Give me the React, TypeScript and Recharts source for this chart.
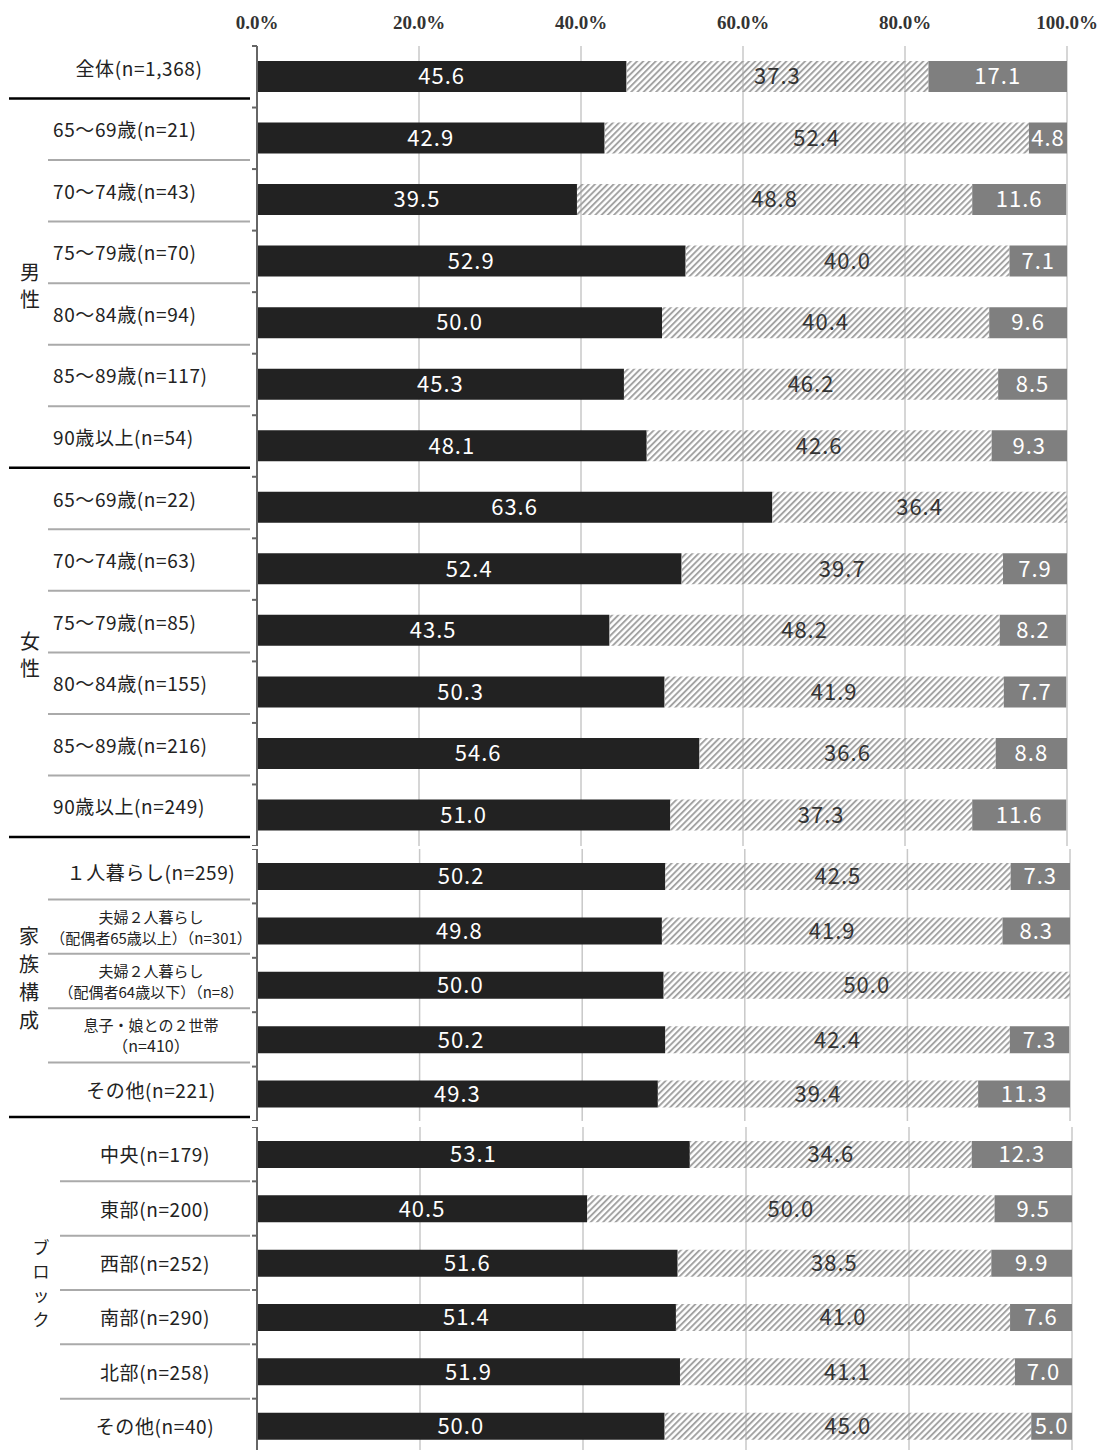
import { Bar, BarChart, CartesianGrid, LabelList, XAxis, YAxis } from "recharts"

const xTicks = [0, 20, 40, 60, 80, 100]

const topCategories = [
  "全体(n=1,368)",
  "65〜69歳(n=21)",
  "70〜74歳(n=43)",
  "75〜79歳(n=70)",
  "80〜84歳(n=94)",
  "85〜89歳(n=117)",
  "90歳以上(n=54)",
  "65〜69歳(n=22)",
  "70〜74歳(n=63)",
  "75〜79歳(n=85)",
  "80〜84歳(n=155)",
  "85〜89歳(n=216)",
  "90歳以上(n=249)",
]
const topBlack = [45.6, 42.9, 39.5, 52.9, 50.0, 45.3, 48.1, 63.6, 52.4, 43.5, 50.3, 54.6, 51.0]
const topHatch = [37.3, 52.4, 48.8, 40.0, 40.4, 46.2, 42.6, 36.4, 39.7, 48.2, 41.9, 36.6, 37.3]
const topGrey = [17.1, 4.8, 11.6, 7.1, 9.6, 8.5, 9.3, 0, 7.9, 8.2, 7.7, 8.8, 11.6]

const familyCategories = [
  "１人暮らし(n=259)",
  "夫婦２人暮らし\n（配偶者65歳以上）（n=301）",
  "夫婦２人暮らし\n（配偶者64歳以下）（n=8）",
  "息子・娘との２世帯\n（n=410）",
  "その他(n=221)",
]
const familyBlack = [50.2, 49.8, 50.0, 50.2, 49.3]
const familyHatch = [42.5, 41.9, 50.0, 42.4, 39.4]
const familyGrey = [7.3, 8.3, 0, 7.3, 11.3]

const blockCategories = [
  "中央(n=179)",
  "東部(n=200)",
  "西部(n=252)",
  "南部(n=290)",
  "北部(n=258)",
  "その他(n=40)",
]
const blockBlack = [53.1, 40.5, 51.6, 51.4, 51.9, 50.0]
const blockHatch = [34.6, 50.0, 38.5, 41.0, 41.1, 45.0]
const blockGrey = [12.3, 9.5, 9.9, 7.6, 7.0, 5.0]

const topGroups = [
  { name: "", start: 0, count: 1, textX: 139, anchor: "middle", sepLeft: 48, charX: 30, charGap: 27, charSize: 20 },
  { name: "男性", start: 1, count: 6, textX: 53, anchor: "start", sepLeft: 48, charX: 30, charGap: 27, charSize: 20 },
  { name: "女性", start: 7, count: 6, textX: 53, anchor: "start", sepLeft: 48, charX: 30, charGap: 27, charSize: 20 },
]
const familyGroups = [
  { name: "家族構成", start: 0, count: 5, textX: 151, anchor: "middle", sepLeft: 48, charX: 29, charGap: 28, charSize: 20 },
]
const blockGroups = [
  { name: "ブロック", start: 0, count: 6, textX: 155, anchor: "middle", sepLeft: 60, charX: 41, charGap: 24, charSize: 17 },
]

const LABEL_FONT = "'Noto Sans CJK JP', 'Noto Sans', sans-serif"

type Group = {
  name: string
  start: number
  count: number
  textX: number
  anchor: string
  sepLeft: number
  charX: number
  charGap: number
  charSize: number
}

type SectionProps = {
  id: string
  categories: string[]
  black: number[]
  hatch: number[]
  grey: number[]
  groups: Group[]
  top: number
  plotHeight: number
  marginTop: number
  barSize: number
  showAxis: boolean
  rightEdge: number
  sepOffset: number
}

function fmt(v: any) {
  const n = Number(v)
  return n > 0 ? n.toFixed(1) : ""
}

function Section(p: SectionProps) {
  const data = p.categories.map((name, i) => ({
    name,
    black: p.black[i],
    hatch: p.hatch[i],
    grey: p.grey[i],
  }))
  const band = p.plotHeight / p.categories.length
  const axisHeight = p.showAxis ? 40 : 0
  const height = p.marginTop + axisHeight + p.plotHeight

  const renderTick = (props: any) => {
    const { y, payload } = props
    const i = p.categories.indexOf(payload.value)
    const g = p.groups.find((gr) => i >= gr.start && i < gr.start + gr.count) as Group
    const lines = String(payload.value).split("\n")
    const last = i === g.start + g.count - 1
    const sepY = y + band / 2 + p.sepOffset
    const textY = y + p.sepOffset
    const small = lines.length > 1
    const fs = small ? 15 : 19
    const chars = Array.from(g.name)
    const groupCenter = y - band / 2 + (g.count * band) / 2 - 6
    return (
      <g>
        <text
          x={g.textX}
          y={textY}
          textAnchor={g.anchor as any}
          fontFamily={LABEL_FONT}
          fontSize={fs}
          letterSpacing={small ? 0 : 0.6}
          fill="#222"
        >
          {lines.map((ln, k) => (
            <tspan key={k} x={g.textX} dy={k === 0 ? (small ? -4 : 8) : 21} fontSize={ln.startsWith("（n") ? 16 : fs}>
              {ln}
            </tspan>
          ))}
        </text>
        {last ? (
          <line x1={9} x2={250} y1={sepY} y2={sepY} stroke="#000" strokeWidth={2.5} />
        ) : (
          <line x1={g.sepLeft} x2={250} y1={sepY} y2={sepY} stroke="#aaa" strokeWidth={2} />
        )}
        <line x1={252} x2={257} y1={y - band / 2} y2={y - band / 2} stroke="#666" strokeWidth={2} />
        {i === p.categories.length - 1 && (
          <line x1={252} x2={257} y1={y + band / 2} y2={y + band / 2} stroke="#666" strokeWidth={2} />
        )}
        {i === g.start &&
          chars.map((c, k) => (
            <text
              key={c + k}
              x={g.charX}
              y={groupCenter + (k - (chars.length - 1) / 2) * g.charGap}
              dy={g.charSize * 0.35}
              textAnchor="middle"
              fontFamily={LABEL_FONT}
              fontSize={g.charSize}
              fill="#222"
            >
              {c}
            </text>
          ))}
      </g>
    )
  }

  const renderXTick = (props: any) => {
    const { x, payload } = props
    return (
      <text
        x={x}
        y={29}
        textAnchor="middle"
        fontFamily="'Liberation Serif', serif"
        fontSize={19}
        fontWeight={600}
        fill="#333"
      >
        {Number(payload.value).toFixed(1) + "%"}
      </text>
    )
  }

  const labelStyle = { fontFamily: LABEL_FONT, fontSize: 22, letterSpacing: 1 }

  return (
    <div style={{ position: "absolute", left: 0, top: p.top }}>
      <BarChart
        width={1102}
        height={height}
        data={data}
        layout="vertical"
        barSize={p.barSize}
        margin={{ top: p.marginTop, right: 1102 - p.rightEdge, bottom: 0, left: 0 }}
      >
        <defs>
          <pattern id={p.id} width={4.4} height={4.4} patternUnits="userSpaceOnUse" patternTransform="rotate(45)">
            <line x1={1} y1={0} x2={1} y2={4.4} stroke="#a0a0a0" strokeWidth={1.9} />
          </pattern>
        </defs>
        <CartesianGrid horizontal={false} stroke="#c8c8c8" strokeWidth={1.5} />
        <XAxis
          type="number"
          domain={[0, 100]}
          ticks={xTicks}
          allowDataOverflow
          orientation="top"
          height={40}
          hide={!p.showAxis}
          axisLine={false}
          tickLine={false}
          tick={renderXTick}
          interval={0}
        />
        <YAxis
          type="category"
          dataKey="name"
          width={257}
          interval={0}
          axisLine={{ stroke: "#666", strokeWidth: 2 }}
          tickLine={false}
          tick={renderTick}
        />
        <Bar dataKey="black" stackId="s" fill="#222222" isAnimationActive={false}>
          <LabelList dataKey="black" position="center" formatter={fmt} fill="#fff" style={labelStyle} />
        </Bar>
        <Bar dataKey="hatch" stackId="s" fill={`url(#${p.id})`} isAnimationActive={false}>
          <LabelList dataKey="hatch" position="center" formatter={fmt} fill="#333" style={labelStyle} />
        </Bar>
        <Bar dataKey="grey" stackId="s" fill="#7f7f7f" isAnimationActive={false}>
          <LabelList dataKey="grey" position="center" formatter={fmt} fill="#fff" style={labelStyle} />
        </Bar>
      </BarChart>
    </div>
  )
}

export default function App() {
  return (
    <div
      style={{
        position: "absolute",
        left: 0,
        top: 0,
        width: 1102,
        height: 1450,
        overflow: "hidden",
        background: "#fff",
      }}
    >
      <Section
        id="hatchTop"
        categories={topCategories}
        black={topBlack}
        hatch={topHatch}
        grey={topGrey}
        groups={topGroups}
        top={0}
        marginTop={6}
        plotHeight={800}
        barSize={31}
        showAxis
        rightEdge={1067}
        sepOffset={-9}
      />
      <Section
        id="hatchFamily"
        categories={familyCategories}
        black={familyBlack}
        hatch={familyHatch}
        grey={familyGrey}
        groups={familyGroups}
        top={849}
        marginTop={0}
        plotHeight={272}
        barSize={27}
        showAxis={false}
        rightEdge={1070}
        sepOffset={-4}
      />
      <Section
        id="hatchBlock"
        categories={blockCategories}
        black={blockBlack}
        hatch={blockHatch}
        grey={blockGrey}
        groups={blockGroups}
        top={1127}
        marginTop={0}
        plotHeight={326}
        barSize={27}
        showAxis={false}
        rightEdge={1072}
        sepOffset={0}
      />
    </div>
  )
}
